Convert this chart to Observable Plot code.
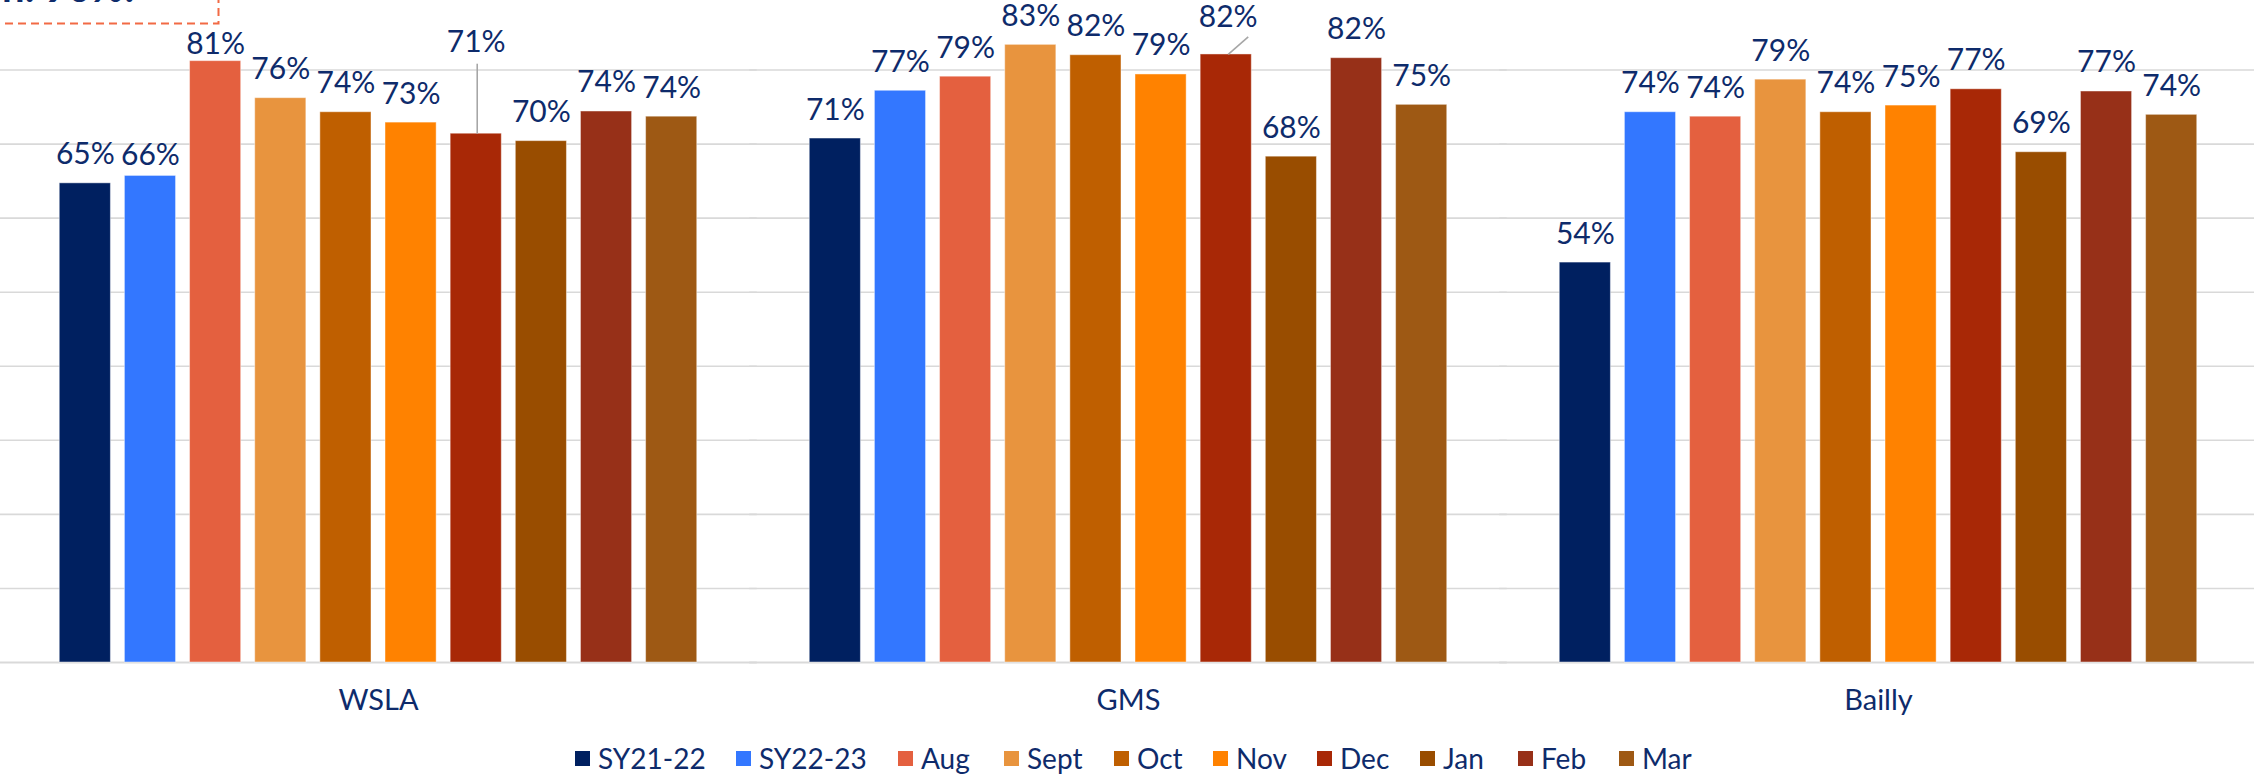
<!DOCTYPE html>
<html>
<head>
<meta charset="utf-8">
<script src="https://cdn.jsdelivr.net/npm/d3@7"></script>
<script src="https://cdn.jsdelivr.net/npm/@observablehq/plot@0.6"></script>
<style>
  html, body { margin: 0; padding: 0; background: #fff; }
  #wrap { position: relative; width: 2254px; height: 774px; overflow: hidden; font-family: Lato, "Open Sans", sans-serif; }
  #title { position: absolute; right: 2119px; top: -33px; white-space: nowrap; font: 700 40px/40px Lato, sans-serif; color: #0E2B6B; }
  #box { position: absolute; left: 0; top: 0; }
  #legend { position: absolute; left: 0; top: 741px; width: 2254px; height: 34px; font-size: 28px; color: #0E2B6B; }
  .item { position: absolute; top: 0; height: 34px; display: flex; align-items: center; white-space: nowrap; }
  .sw { width: 15px; height: 15px; margin-right: 8px; }
</style>
</head>
<body>
<div id="wrap">
  <div id="chart"></div>
  <div id="title">Attendance Goal for Each Campus This Season: 90%!</div>
  <svg id="box" width="260" height="40"><path d="M5,23.5H218.5V0" fill="none" stroke="#F26A45" stroke-width="2" stroke-dasharray="8 5"/></svg>
  <div id="legend"></div>
</div>
<script>
// ---- data ----
const schools = ["WSLA", "GMS", "Bailly"];
const periods = ["SY21-22", "SY22-23", "Aug", "Sept", "Oct", "Nov", "Dec", "Jan", "Feb", "Mar"];
const wslaValues   = [64.7, 65.7, 81.2, 76.2, 74.3, 72.9, 71.4, 70.4, 74.4, 73.7];
const gmsValues    = [70.75, 77.2, 79.1, 83.4, 82.0, 79.4, 82.1, 68.3, 81.6, 75.3];
const baillyValues = [54.0, 74.3, 73.7, 78.7, 74.3, 75.2, 77.4, 68.9, 77.1, 73.95];
const periodColors = ["#002060", "#3377FF", "#E4603F", "#E8943E", "#BF5F00", "#FF8200", "#A82806", "#994D00", "#973018", "#9E5914"];
const gridTicks = [10, 20, 30, 40, 50, 60, 70, 80];

// ---- build table ----
const seriesBySchool = {WSLA: wslaValues, GMS: gmsValues, Bailly: baillyValues};
const rows = schools.flatMap(s => periods.map((p, i) => ({school: s, period: p, value: seriesBySchool[s][i]})));

// manual label placement tweaks (pixels), like the hand-moved labels in the original
const labelNudges = [
  {school: "WSLA", period: "SY22-23", dx: 0, dy: -11},
  {school: "WSLA", period: "Aug", dx: 0, dy: -7},
  {school: "WSLA", period: "Dec", dx: 0, dy: -82},
  {school: "GMS", period: "Dec", dx: 2, dy: -27}
];
const leaders = [
  {school: "WSLA", period: "Dec", dx1: 1, dy1: 0, dx2: 1, dy2: -70},
  {school: "GMS", period: "Dec", dx1: 2, dy1: 0, dx2: 22, dy2: -17.5}
];
const isNudged = d => labelNudges.some(n => n.school === d.school && n.period === d.period);
const leaderRows = leaders.map(l => ({...l, value: rows.find(r => r.school === l.school && r.period === l.period).value}));

const navy = "#0E2B6B";
const H = 740, baseY = 662, pxPerPct = 7.406;
const ext = -60; // let the per-facet gridlines run across the gaps between groups
const labelStyle = {fx: "school", x: "period", y: "value", text: d => Math.round(d.value) + "%", lineAnchor: "bottom", fill: navy, fontSize: 30, letterSpacing: 0.4};

const labelMarks = [
  Plot.text(rows.filter(d => !isNudged(d)), {...labelStyle, dy: -19})
].concat(labelNudges.map(n =>
  Plot.text(rows.filter(d => d.school === n.school && d.period === n.period), {...labelStyle, dy: n.dy, dx: n.dx})
));

const chart = Plot.plot({
  width: 2254,
  height: H,
  marginLeft: 3,
  marginRight: 1,
  marginTop: 0,
  marginBottom: H - baseY,
  style: {fontFamily: "Lato, 'Open Sans', sans-serif", background: "transparent", overflow: "visible"},
  fx: {domain: schools, paddingInner: 0.15, paddingOuter: 0.075, round: false, axis: null, label: null},
  x: {domain: periods, paddingInner: 0.215, paddingOuter: 0, round: false, axis: null},
  y: {domain: [0, 90], range: [baseY, baseY - 90 * pxPerPct], axis: null},
  color: {domain: periods, range: periodColors},
  marks: [
    Plot.ruleY(gridTicks, {stroke: "#D9D9D9", strokeWidth: 1.6, insetLeft: ext, insetRight: ext}),
    Plot.ruleY([0], {stroke: "#D9D9D9", strokeWidth: 2.2, insetLeft: ext, insetRight: ext}),
    Plot.barY(rows, {fx: "school", x: "period", y: "value", fill: "period", stroke: "#ffffff", strokeOpacity: 0.45, strokeWidth: 1}),
    Plot.link(leaderRows, {
      fx: "school", x1: "period", x2: "period", y1: "value", y2: "value",
      stroke: "#A6A6A6", strokeWidth: 1.6,
      render(index, scales, values, dimensions, context, next) {
        const v = {...values};
        const x1 = Float64Array.from(values.x1), x2 = Float64Array.from(values.x2);
        const y1 = Float64Array.from(values.y1), y2 = Float64Array.from(values.y2);
        for (const i of index) {
          x1[i] += leaderRows[i].dx1; x2[i] += leaderRows[i].dx2;
          y1[i] += leaderRows[i].dy1; y2[i] += leaderRows[i].dy2;
        }
        v.x1 = x1; v.x2 = x2; v.y1 = y1; v.y2 = y2;
        return next(index, scales, v, dimensions, context);
      }
    }),
    ...labelMarks,
    Plot.axisFx({anchor: "bottom", tickSize: 0, tickPadding: 27, fontSize: 29, fill: navy, label: null})
  ]
});
document.getElementById("chart").appendChild(chart);

// legend (item left edges follow the original legend's spacing)
const legendLeft = [575, 736, 898, 1004, 1114, 1213, 1317, 1420, 1518, 1619];
const legend = document.getElementById("legend");
periods.forEach((p, i) => {
  const item = document.createElement("div");
  item.className = "item";
  item.style.left = legendLeft[i] + "px";
  const sw = document.createElement("span");
  sw.className = "sw";
  sw.style.background = periodColors[i];
  const t = document.createElement("span");
  t.textContent = p;
  item.appendChild(sw);
  item.appendChild(t);
  legend.appendChild(item);
});
</script>
</body>
</html>
